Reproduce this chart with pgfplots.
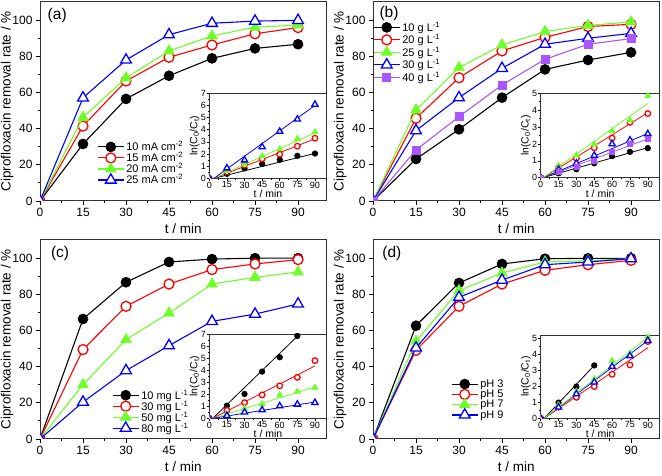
\documentclass[border=0pt]{standalone}
\usepackage{fontspec}
\setmainfont{Liberation Sans}
\usepackage{pgfplots}
\pgfplotsset{compat=1.18}
\definecolor{cgreen}{RGB}{110,255,40}
\definecolor{cpurple}{RGB}{170,85,255}
\definecolor{cred}{RGB}{255,0,0}
\definecolor{cblue}{RGB}{0,0,255}
\pgfplotsset{
  /pgf/number format/assume math mode=true,
  mainax/.style={
    scale only axis, width=286.7pt, height=199.1pt,
    xmin=0, xmax=100, ymin=0, ymax=110,
    xtick={0,15,...,90}, ytick={0,20,...,100},
    minor x tick num=1, minor y tick num=1,
    tick align=outside, xtick pos=bottom, ytick pos=left,
    major tick length=4pt, minor tick length=2.5pt,
    every tick/.style={black, line width=0.9pt},
    axis line style={line width=1pt, black!80},
    tick label style={font=\fontsize{12}{12}\selectfont},
    xlabel={t / min}, ylabel={Ciprofloxacin removal rate / \%},
    label style={font=\fontsize{13.5}{13.5}\selectfont},
    x label style={at={(axis description cs:0.5,-0.14)}, anchor=center},
    y label style={at={(axis description cs:-0.115,0.5)}, anchor=center},
    anchor=south west,
    clip marker paths=true,
    legend cell align=left,
    legend style={draw=none, fill=none, font=\fontsize{11}{12}\selectfont, inner sep=0pt, row sep=-3.8pt, anchor=north west},
    legend image code/.code={\draw[mark repeat=2,mark phase=2] plot coordinates {(0pt,0pt) (13pt,0pt) (26pt,0pt)};},
  },
  inax/.style={
    scale only axis,
    xmin=0, xmax=100, ymin=0,
    xtick={0,15,...,90}, minor x tick num=1, minor y tick num=1,
    tick align=outside, xtick pos=bottom, ytick pos=left,
    major tick length=2.5pt, minor tick length=1.5pt,
    every tick/.style={black, line width=0.6pt},
    axis line style={line width=0.8pt, black!80},
    tick label style={font=\fontsize{9}{9}\selectfont, inner sep=0.8pt},
    xlabel={t / min}, ylabel={ln(C\textsubscript{0}/C\textsubscript{t})},
    label style={font=\fontsize{10.5}{10.5}\selectfont},
    x label style={at={(axis description cs:0.5,-0.185)}, anchor=center},
    y label style={at={(axis description cs:-0.125,0.5)}, anchor=center},
    axis background/.style={fill=white},
    anchor=south west,
    clip marker paths=true,
  },
  sblack/.style={black, line width=#1, mark=*, mark options={solid, fill=black, draw=black, line width=0.6pt}},
  sred/.style={cred, line width=#1, mark=*, mark options={solid, fill=white, draw=cred, line width=1.3pt}},
  sgreen/.style={cgreen, line width=#1, mark=triangle*, mark options={solid, fill=cgreen, draw=cgreen, line width=0.6pt}},
  sblue/.style={cblue, line width=#1, mark=triangle*, mark options={solid, fill=white, draw=cblue, line width=1.3pt}},
  spurple/.style={cpurple, line width=#1, mark=square*, mark options={solid, fill=cpurple, draw=cpurple, line width=0.6pt}},
  mc/.style={mark size=5pt}, mt/.style={mark size=6.2pt}, ms/.style={mark size=4pt},
  ic/.style={mark size=2.8pt}, it/.style={mark size=3.6pt}, is/.style={mark size=2.5pt},
  fitl/.style={no markers, line width=0.8pt, forget plot},
}
\begin{document}
\begin{tikzpicture}
\path[use as bounding box] (0pt,0pt) rectangle (662pt,476pt);
% ================= (a) =================
\begin{axis}[mainax, at={(40pt,275pt)},
  legend style={at={(axis description cs:0.199,0.31)}}]
\addplot[sblack=1.1pt, mc] coordinates {(0,0) (15,31.5) (30,56.4) (45,69.2) (60,78.8) (75,84.3) (90,86.6)};
\addlegendentry{10 mA cm\textsuperscript{-2}}
\addplot[sred=1.1pt, mc] coordinates {(0,0) (15,41.4) (30,66.3) (45,79.4) (60,86.2) (75,92.4) (90,95.8)};
\addlegendentry{15 mA cm\textsuperscript{-2}}
\addplot[sgreen=1.1pt, mt] coordinates {(0,0) (15,46.2) (30,68.0) (45,82.9) (60,91.2) (75,96.0) (90,97.2)};
\addlegendentry{20 mA cm\textsuperscript{-2}}
\addplot[sblue=1.1pt, mt] coordinates {(0,0) (15,57.0) (30,77.9) (45,91.9) (60,98.2) (75,99.4) (90,99.8)};
\addlegendentry{25 mA cm\textsuperscript{-2}}
\node[font=\fontsize{15.5}{15.5}\selectfont] at (axis description cs:0.06,0.934) {(a)};
\end{axis}
\begin{axis}[inax, at={(209.3pt,297.7pt)}, width=117.4pt, height=85pt, ymax=7, ytick={0,1,...,7}]
\addplot[fitl, black] coordinates {(4,0) (90,2.05)};
\addplot[fitl, cred] coordinates {(4,0) (90,3.25)};
\addplot[fitl, cgreen] coordinates {(4,0) (90,3.75)};
\addplot[fitl, cblue] coordinates {(4,0) (90,6.0)};
\addplot[sblack=0pt, ic, only marks] coordinates {(0,0) (15,0.37) (30,0.82) (45,1.18) (60,1.53) (75,1.85) (90,2.04)};
\addplot[sred=0pt, ic, only marks] coordinates {(0,0) (15,0.53) (30,1.09) (45,1.6) (60,1.98) (75,2.65) (90,3.3)};
\addplot[sgreen=0pt, it, only marks] coordinates {(0,0) (15,0.62) (30,1.15) (45,1.82) (60,2.4) (75,3.26) (90,3.8)};
\addplot[sblue=0pt, it, only marks] coordinates {(0,0) (15,0.84) (30,1.5) (45,2.58) (60,3.85) (75,4.86) (90,6.08)};
\end{axis}
% ================= (b) =================
\begin{axis}[mainax, at={(373pt,275pt)},
  legend style={at={(axis description cs:0.0,0.91)}, row sep=-2.3pt}]
\addplot[sblack=1.1pt, mc] coordinates {(0,0) (15,23.2) (30,39.6) (45,57.1) (60,72.7) (75,77.9) (90,82.1)};
\addlegendentry{10 g L\textsuperscript{-1}}
\addplot[sred=1.1pt, mc] coordinates {(0,0) (15,45.7) (30,68.1) (45,82.9) (60,90.4) (75,96.4) (90,97.6)};
\addlegendentry{20 g L\textsuperscript{-1}}
\addplot[sgreen=1.1pt, mt] coordinates {(0,0) (15,50.3) (30,73.7) (45,86.2) (60,93.6) (75,97.0) (90,98.9)};
\addlegendentry{25 g L\textsuperscript{-1}}
\addplot[sblue=1.1pt, mt] coordinates {(0,0) (15,38.9) (30,57.1) (45,73.3) (60,86.6) (75,89.9) (90,92.6)};
\addlegendentry{30 g L\textsuperscript{-1}}
\addplot[spurple=1.1pt, ms] coordinates {(0,0) (15,28.2) (30,46.6) (45,64.1) (60,78.3) (75,86.6) (90,89.7)};
\addlegendentry{40 g L\textsuperscript{-1}}
\node[font=\fontsize{15.5}{15.5}\selectfont] at (axis description cs:0.056,0.94) {(b)};
\end{axis}
\begin{axis}[inax, at={(540.7pt,298.3pt)}, width=119pt, height=84.4pt, ymax=5, ytick={0,1,...,5}]
\addplot[fitl, black] coordinates {(2,0) (90,1.78)};
\addplot[fitl, cpurple] coordinates {(2,0) (90,2.3)};
\addplot[fitl, cblue] coordinates {(2,0) (90,2.62)};
\addplot[fitl, cred] coordinates {(2,0) (90,3.85)};
\addplot[fitl, cgreen] coordinates {(2,0) (90,4.4)};
\addplot[sblack=0pt, ic, only marks] coordinates {(0,0) (15,0.26) (30,0.5) (45,0.85) (60,1.28) (75,1.53) (90,1.75)};
\addplot[sred=0pt, ic, only marks] coordinates {(0,0) (15,0.61) (30,1.14) (45,1.77) (60,2.35) (75,3.28) (90,3.8)};
\addplot[sgreen=0pt, it, only marks] coordinates {(0,0) (15,0.7) (30,1.33) (45,1.98) (60,2.78) (75,3.4) (90,4.85)};
\addplot[sblue=0pt, it, only marks] coordinates {(0,0) (15,0.49) (30,0.85) (45,1.32) (60,2.0) (75,2.22) (90,2.6)};
\addplot[spurple=0pt, is, only marks] coordinates {(0,0) (15,0.33) (30,0.63) (45,1.02) (60,1.52) (75,2.0) (90,2.3)};
\end{axis}
% ================= (c) =================
\begin{axis}[mainax, at={(40pt,37pt)},
  legend style={at={(axis description cs:0.251,0.258)}}]
\addplot[sblack=1.1pt, mc] coordinates {(0,0) (15,66.3) (30,86.6) (45,97.8) (60,99.4) (75,99.9) (90,99.9)};
\addlegendentry{10 mg L\textsuperscript{-1}}
\addplot[sred=1.1pt, mc] coordinates {(0,0) (15,49.4) (30,73.3) (45,85.6) (60,93.6) (75,96.7) (90,99.1)};
\addlegendentry{30 mg L\textsuperscript{-1}}
\addplot[sgreen=1.1pt, mt] coordinates {(0,0) (15,30.0) (30,54.9) (45,69.6) (60,85.6) (75,89.3) (90,92.3)};
\addlegendentry{50 mg L\textsuperscript{-1}}
\addplot[sblue=1.1pt, mt] coordinates {(0,0) (15,20.4) (30,37.8) (45,51.6) (60,65.0) (75,69.0) (90,74.6)};
\addlegendentry{80 mg L\textsuperscript{-1}}
\node[font=\fontsize{15.5}{15.5}\selectfont] at (axis description cs:0.07,0.934) {(c)};
\end{axis}
\begin{axis}[inax, at={(209.3pt,57.7pt)}, width=117.4pt, height=84.3pt, ymax=7, ytick={0,1,...,7}]
\addplot[fitl, black] coordinates {(3,0) (77,7)};
\addplot[fitl, cred] coordinates {(3,0) (90,4.35)};
\addplot[fitl, cgreen] coordinates {(3,0) (90,2.6)};
\addplot[fitl, cblue] coordinates {(3,0) (90,1.35)};
\addplot[sblack=0pt, ic, only marks] coordinates {(0,0) (15,1.05) (30,2.02) (45,3.88) (60,5.07) (75,6.84)};
\addplot[sred=0pt, ic, only marks] coordinates {(0,0) (15,0.66) (30,1.3) (45,1.94) (60,2.69) (75,3.4) (90,4.79)};
\addplot[sgreen=0pt, it, only marks] coordinates {(0,0) (15,0.35) (30,0.78) (45,1.19) (60,1.94) (75,2.22) (90,2.55)};
\addplot[sblue=0pt, it, only marks] coordinates {(0,0) (15,0.22) (30,0.5) (45,0.69) (60,1.02) (75,1.16) (90,1.3)};
\end{axis}
% ================= (d) =================
\begin{axis}[mainax, at={(373pt,37pt)},
  legend style={at={(axis description cs:0.272,0.31)}, row sep=-2.8pt}]
\addplot[sblack=1.1pt, mc] coordinates {(0,0) (15,62.6) (30,86.2) (45,96.7) (60,99.6) (75,99.8) (90,99.8)};
\addlegendentry{pH 3}
\addplot[sred=1.1pt, mc] coordinates {(0,0) (15,49.0) (30,73.3) (45,85.6) (60,93.2) (75,96.3) (90,98.7)};
\addlegendentry{pH 5}
\addplot[sgreen=1.1pt, mt] coordinates {(0,0) (15,54.0) (30,82.0) (45,91.7) (60,97.8) (75,98.5) (90,99.6)};
\addlegendentry{pH 7}
\addplot[sblue=1.1pt, mt] coordinates {(0,0) (15,50.3) (30,78.3) (45,87.8) (60,96.3) (75,97.8) (90,99.6)};
\addlegendentry{pH 9}
\node[font=\fontsize{15.5}{15.5}\selectfont] at (axis description cs:0.066,0.934) {(d)};
\end{axis}
\begin{axis}[inax, at={(540.7pt,57.7pt)}, width=119pt, height=83.3pt, ymax=5.2, ytick={0,1,...,5}]
\addplot[fitl, black] coordinates {(3,0) (45,3.3)};
\addplot[fitl, cred] coordinates {(3,0) (90,4.4)};
\addplot[fitl, cblue] coordinates {(3,0) (90,4.85)};
\addplot[fitl, cgreen] coordinates {(3,0) (90,5.05)};
\addplot[sblack=0pt, ic, only marks] coordinates {(0,0) (15,0.98) (30,1.98) (45,3.3)};
\addplot[sred=0pt, ic, only marks] coordinates {(0,0) (15,0.69) (30,1.31) (45,1.98) (60,2.75) (75,3.33) (90,4.79)};
\addplot[sgreen=0pt, it, only marks] coordinates {(0,0) (15,0.83) (30,1.67) (45,2.44) (60,3.6) (75,4.06) (90,5.1)};
\addplot[sblue=0pt, it, only marks] coordinates {(0,0) (15,0.69) (30,1.52) (45,2.25) (60,3.23) (75,3.9) (90,4.85)};
\end{axis}
\end{tikzpicture}
\end{document}
